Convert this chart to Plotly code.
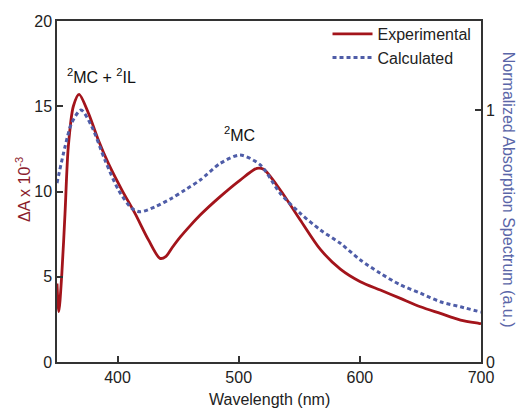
import plotly.graph_objects as go

# Experimental transient absorption (ΔA x 10^-3)
exp_wl = [350, 351.5, 354, 356.6, 359.3, 363.5, 368.2, 375.9, 384.2, 392.4, 403.5,
          414.5, 425.5, 435, 440, 445, 452, 460, 468.2, 484.7, 501.2, 515, 520.5, 534.3,
          550.8, 567.4, 583.9, 600.4, 616.9, 633.5, 650, 666.5, 683.1, 698.2, 700]
exp_val = [4.6, 2.95, 5.2, 8.7, 12.6, 15.0, 15.7, 14.6, 13.0, 11.65, 10.1,
           8.7, 7.16, 6.08, 6.2, 6.7, 7.35, 8.0, 8.62, 9.7, 10.67, 11.36, 11.3, 10.09,
           8.33, 6.6, 5.45, 4.71, 4.22, 3.73, 3.24, 2.85, 2.46, 2.27, 2.25]

# Calculated normalized absorption spectrum
calc_wl = [350, 356.6, 362, 369.8, 378.7, 389.7, 400.7, 411.7, 418.6, 431, 444.8,
           455.8, 468.2, 484.7, 501.2, 517.8, 534.3, 550.8, 567.4, 583.9, 600.4,
           616.9, 633.5, 650, 666.5, 683.1, 700]
calc_val = [0.71, 0.854, 0.947, 1.0, 0.934, 0.80, 0.683, 0.61, 0.596, 0.616, 0.65,
            0.683, 0.722, 0.788, 0.821, 0.782, 0.669, 0.59, 0.524, 0.471, 0.405,
            0.352, 0.306, 0.273, 0.239, 0.219, 0.198]

x_ticks = [400, 500, 600, 700]
y_ticks = [0, 5, 10, 15, 20]
y2_ticks = [0, 1]

RED = "#A3141B"
BLUE = "#4F5DA8"
AXC = "#333333"
FONT = "Liberation Sans, Arial, sans-serif"

fig = go.Figure()
fig.add_trace(go.Scatter(x=exp_wl, y=exp_val, mode="lines", name="Experimental",
                         line=dict(color=RED, width=2.8, shape="spline", smoothing=0.8)))
fig.add_trace(go.Scatter(x=calc_wl, y=calc_val, mode="lines", name="Calculated", yaxis="y2",
                         line=dict(color=BLUE, width=3, dash="4px,3px", shape="spline", smoothing=0.8)))

fig.update_layout(
    width=516, height=409,
    margin=dict(l=57, r=35, t=21, b=47),
    paper_bgcolor="white", plot_bgcolor="white",
    font=dict(family=FONT, size=15, color="#222222"),
    showlegend=True,
    legend=dict(x=0.638, y=1.012, xanchor="left", yanchor="top", bgcolor="rgba(0,0,0,0)",
                font=dict(size=16, color="#222222"), tracegroupgap=0,
                itemwidth=40),
    xaxis=dict(range=[350, 700], tickvals=x_ticks, ticks="inside", ticklen=6,
               tickwidth=1.5, tickcolor=AXC, showline=True, linecolor=AXC, linewidth=1.5,
               mirror=True, showgrid=False, zeroline=False,
               tickfont=dict(size=16)),
    yaxis=dict(range=[0, 20], tickvals=y_ticks, ticks="inside", ticklen=6,
               tickwidth=1.5, tickcolor=AXC, showline=True, linecolor=AXC, linewidth=1.5,
               showgrid=False, zeroline=False, tickfont=dict(size=16)),
    yaxis2=dict(range=[0, 341 / 252], tickvals=y2_ticks, overlaying="y", side="right",
                ticks="inside", ticklen=6, tickwidth=1.5, tickcolor=AXC, showline=True,
                linecolor=AXC, linewidth=1.5, showgrid=False, zeroline=False,
                tickfont=dict(size=16)),
    annotations=[
        dict(text="<sup>2</sup>MC + <sup>2</sup>IL", x=387, y=16.8, xref="x", yref="y",
             showarrow=False, font=dict(size=16, color="#111111")),
        dict(text="<sup>2</sup>MC", x=501, y=13.4, xref="x", yref="y",
             showarrow=False, font=dict(size=16, color="#111111")),
        dict(text="Wavelength (nm)", x=0.502, y=-0.111, xref="paper", yref="paper",
             xanchor="center", yanchor="middle",
             showarrow=False, font=dict(size=16, color="#222222")),
        dict(text="ΔA x 10<sup>-3</sup>", x=-0.08, y=0.505, xref="paper", yref="paper",
             xanchor="center", yanchor="middle",
             showarrow=False, textangle=-90, font=dict(size=16, color="#8B1C2C")),
        dict(text="Normalized Absorption Spectrum (a.u.)", x=1.0637, y=0.505,
             xref="paper", yref="paper", showarrow=False, textangle=90,
             xanchor="center", yanchor="middle",
             font=dict(size=16, color="#5A66A8")),
    ],
)

fig.write_html("out.html")
